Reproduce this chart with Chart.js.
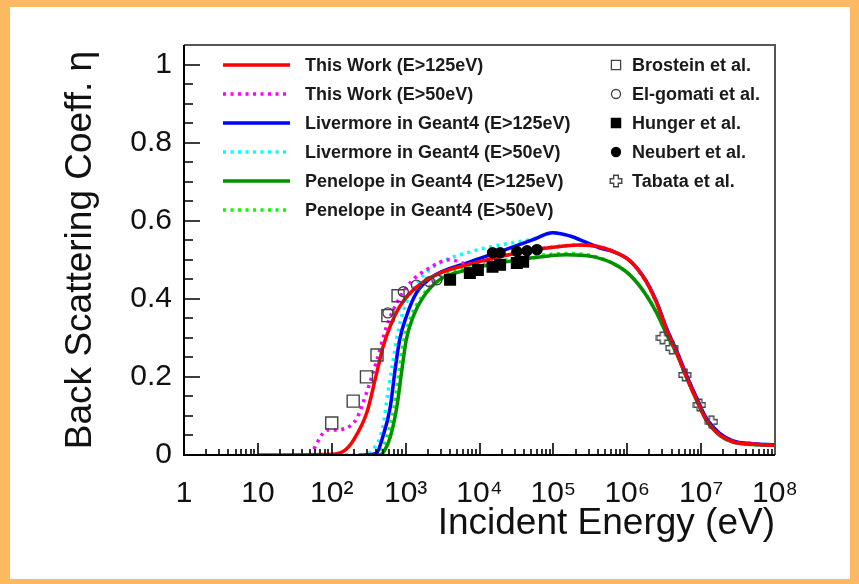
<!DOCTYPE html>
<html>
<head>
<meta charset="utf-8">
<script src="https://cdn.jsdelivr.net/npm/chart.js@4.4.0/dist/chart.umd.min.js"></script>
<style>
  html, body { margin: 0; padding: 0; background: #fff; }
</style>
</head>
<body>
<canvas id="bsc" width="859" height="584"></canvas>
<script>
// axis ticks
const xTickValues = [1, 10, 1e2, 1e3, 1e4, 1e5, 1e6, 1e7, 1e8];
const xTickLabels = ['1', '10', '10²', '10³', '10⁴', '10⁵', '10⁶', '10⁷', '10⁸'];
const yTickValues = [0, 0.2, 0.4, 0.6, 0.8, 1];
const yTickLabels = ['0', '0.2', '0.4', '0.6', '0.8', '1'];

// This Work (E>125eV)
const redE   = [10, 100, 150, 200, 300, 400, 500, 620, 830, 1150, 1750, 2900, 6800, 19000, 52000, 150000, 230000, 400000, 650000, 1.1e6, 1.8e6, 2.5e6, 3.4e6, 4.7e6, 6.3e6, 8.7e6, 1.17e7, 1.8e7, 2.7e7, 5e7, 1e8];
const redEta = [0, 0.002, 0.012, 0.04, 0.11, 0.205, 0.28, 0.33, 0.38, 0.415, 0.444, 0.466, 0.487, 0.508, 0.525, 0.536, 0.538, 0.534, 0.521, 0.496, 0.444, 0.389, 0.321, 0.261, 0.201, 0.141, 0.09, 0.051, 0.034, 0.028, 0.025];

// This Work (E>50eV)
const magE   = [50, 56, 65, 76, 90, 110, 140, 180, 220, 295, 410, 550, 760, 1150, 1900, 4000, 6800, 19000, 52000, 150000, 230000, 400000, 650000, 1.1e6, 1.8e6, 2.5e6, 3.4e6, 4.7e6, 6.3e6, 8.7e6, 1.17e7, 1.8e7, 2.7e7, 5e7, 1e8];
const magEta = [0, 0.012, 0.035, 0.056, 0.064, 0.064, 0.066, 0.075, 0.095, 0.159, 0.244, 0.328, 0.39, 0.441, 0.474, 0.5, 0.49, 0.508, 0.525, 0.536, 0.538, 0.534, 0.521, 0.496, 0.444, 0.389, 0.321, 0.261, 0.201, 0.141, 0.09, 0.051, 0.034, 0.028, 0.025];

// Livermore in Geant4 (E>125eV)
const blueE   = [280, 400, 490, 620, 720, 830, 1020, 1400, 2300, 6800, 19000, 52000, 98000, 180000, 230000, 430000, 650000, 1.1e6, 1.8e6, 2.5e6, 3.4e6, 4.7e6, 6.3e6, 8.7e6, 1.17e7, 1.8e7, 2.7e7, 5e7, 1e8];
const blueEta = [0, 0.004, 0.046, 0.123, 0.218, 0.295, 0.354, 0.415, 0.456, 0.492, 0.521, 0.551, 0.569, 0.559, 0.551, 0.53, 0.521, 0.497, 0.446, 0.392, 0.325, 0.265, 0.206, 0.146, 0.095, 0.055, 0.036, 0.029, 0.026];

// Livermore in Geant4 (E>50eV)
const cyanE   = [250, 360, 490, 575, 680, 800, 1020, 1550, 2900, 6800, 14000, 52000, 98000, 180000, 230000, 430000, 650000, 1.1e6, 1.8e6, 2.5e6, 3.4e6, 4.7e6, 6.3e6, 8.7e6, 1.17e7, 1.8e7, 2.7e7, 5e7, 1e8];
const cyanEta = [0, 0.013, 0.072, 0.159, 0.244, 0.321, 0.39, 0.449, 0.492, 0.518, 0.533, 0.553, 0.568, 0.559, 0.551, 0.53, 0.521, 0.497, 0.446, 0.392, 0.325, 0.265, 0.206, 0.146, 0.095, 0.055, 0.036, 0.029, 0.026];

// Penelope in Geant4 (E>125eV)
const greenE   = [230, 450, 520, 620, 760, 890, 1020, 1260, 1740, 2900, 6800, 19000, 52000, 150000, 340000, 650000, 1.1e6, 1.8e6, 2.5e6, 3.4e6, 4.7e6, 6.3e6, 8.7e6, 1.17e7, 1.8e7, 2.7e7, 5e7, 1e8];
const greenEta = [0, 0, 0.012, 0.046, 0.123, 0.218, 0.295, 0.354, 0.405, 0.449, 0.474, 0.492, 0.505, 0.513, 0.508, 0.49, 0.46, 0.41, 0.364, 0.31, 0.258, 0.2, 0.14, 0.09, 0.05, 0.033, 0.027, 0.025];

// Penelope in Geant4 (E>50eV)
const limeE   = [75, 400, 470, 560, 700, 820, 950, 1180, 1650, 2800, 6800, 19000, 52000, 150000, 340000, 650000, 1.1e6, 1.8e6, 2.5e6, 3.4e6, 4.7e6, 6.3e6, 8.7e6, 1.17e7, 1.8e7, 2.7e7, 5e7, 1e8];
const limeEta = [0, 0, 0.012, 0.046, 0.123, 0.218, 0.295, 0.354, 0.405, 0.452, 0.478, 0.496, 0.509, 0.516, 0.51, 0.49, 0.46, 0.41, 0.364, 0.31, 0.258, 0.2, 0.14, 0.09, 0.05, 0.033, 0.027, 0.025];

// measurements
const brosE   = [100, 195, 295, 410, 575, 790];
const brosEta = [0.082, 0.138, 0.2, 0.256, 0.357, 0.408];
const gomE    = [575, 930, 1400, 2100, 2650];
const gomEta  = [0.364, 0.418, 0.435, 0.444, 0.449];
const hungE   = [4000, 7400, 9500, 15000, 19000, 32000, 39000];
const hungEta = [0.449, 0.466, 0.474, 0.482, 0.487, 0.492, 0.495];
const neubE   = [15000, 19000, 32000, 44000, 60000];
const neubEta = [0.518, 0.518, 0.521, 0.523, 0.526];
const tabE    = [3.0e6, 4.0e6, 6.0e6, 9.5e6, 1.38e7];
const tabEta  = [0.30, 0.274, 0.205, 0.128, 0.085];

const FONT = '"Liberation Sans", Arial, Helvetica, sans-serif';
const pts = (xs, ys) => xs.map((x, i) => ({ x: x, y: ys[i] }));

// open cross marker (Tabata)
const crossImg = document.createElement('canvas');
crossImg.width = 14; crossImg.height = 14;
(function () {
    const g = crossImg.getContext('2d');
    const c = 7, h = 2.3, r = 5.8;
    g.strokeStyle = '#444';
    g.lineWidth = 1.4;
    g.beginPath();
    g.moveTo(c - h, c - r); g.lineTo(c + h, c - r); g.lineTo(c + h, c - h);
    g.lineTo(c + r, c - h); g.lineTo(c + r, c + h); g.lineTo(c + h, c + h);
    g.lineTo(c + h, c + r); g.lineTo(c - h, c + r); g.lineTo(c - h, c + h);
    g.lineTo(c - r, c + h); g.lineTo(c - r, c - h); g.lineTo(c - h, c - h);
    g.closePath();
    g.stroke();
})();

function curve(label, xs, ys, color, dotted, order) {
    return {
        label: label,
        data: pts(xs, ys),
        showLine: true,
        borderColor: color,
        borderWidth: 3.5,
        borderDash: dotted ? [3, 4.5] : [],
        pointRadius: 0,
        cubicInterpolationMode: 'monotone',
        order: order,
        isCurve: true
    };
}

function marks(label, xs, ys, style, filled, radius, legendRadius) {
    return {
        label: label,
        data: pts(xs, ys),
        showLine: false,
        pointStyle: style,
        pointRadius: radius,
        borderWidth: 1.4,
        borderColor: filled ? '#000' : '#444',
        backgroundColor: filled ? '#000' : 'rgba(0,0,0,0)',
        order: -1,
        legendRadius: legendRadius
    };
}

const frameTicks = {
    id: 'frameTicks',
    beforeDraw(chart) {
        const ctx = chart.ctx, w = chart.width, h = chart.height;
        ctx.save();
        ctx.fillStyle = '#ffffff';
        ctx.fillRect(0, 0, w, h);
        ctx.fillStyle = '#fdb862';
        ctx.fillRect(0, 0, w, 7);
        ctx.fillRect(0, h - 5, w, 5);
        ctx.fillRect(0, 0, 10, h);
        ctx.fillRect(w - 9, 0, 9, h);
        ctx.restore();
    },
    afterDraw(chart) {
        const ctx = chart.ctx;
        const { left, right, top, bottom } = chart.chartArea;
        const xs = chart.scales.x, ys = chart.scales.y;
        ctx.save();
        ctx.lineWidth = 2;
        ctx.strokeStyle = '#555';
        ctx.beginPath();
        ctx.moveTo(left, top); ctx.lineTo(right, top); ctx.lineTo(right, bottom);
        ctx.stroke();
        ctx.strokeStyle = '#000';
        ctx.beginPath();
        ctx.moveTo(left, top); ctx.lineTo(left, bottom); ctx.lineTo(right, bottom);
        ctx.stroke();

        ctx.lineWidth = 1.6;
        ctx.beginPath();
        for (let k = 0; k <= 20; k++) {
            const py = Math.round(ys.getPixelForValue(k * 0.05));
            const len = k % 4 === 0 ? 16 : 9;
            ctx.moveTo(left, py); ctx.lineTo(left + len, py);
        }
        for (let d = 1; d <= 1e7; d *= 10) {
            for (let m = 1; m <= 9; m++) {
                const px = Math.round(xs.getPixelForValue(m * d));
                const len = m === 1 ? 12 : 6;
                ctx.moveTo(px, bottom); ctx.lineTo(px, bottom - len);
            }
        }
        ctx.stroke();
        ctx.restore();
    }
};

// legend drawn inside the frame, two columns like the original
const plotLegend = {
    id: 'plotLegend',
    afterDraw(chart) {
        const ctx = chart.ctx;
        let ci = 0, mi = 0;
        ctx.save();
        ctx.font = 'bold 18px ' + FONT;
        ctx.textBaseline = 'middle';
        chart.data.datasets.forEach(ds => {
            if (ds.isCurve) {
                const y = 65 + ci * 29;
                ctx.strokeStyle = ds.borderColor;
                ctx.lineWidth = 3.5;
                ctx.setLineDash(ds.borderDash);
                ctx.beginPath();
                ctx.moveTo(223, y); ctx.lineTo(290, y);
                ctx.stroke();
                ctx.setLineDash([]);
                ctx.fillStyle = '#1a1a1a';
                ctx.fillText(ds.label, 305, y + 1);
                ci++;
            } else {
                const y = 65 + mi * 29;
                ctx.strokeStyle = ds.borderColor;
                ctx.fillStyle = ds.backgroundColor;
                ctx.lineWidth = 1.3;
                Chart.helpers.drawPoint(ctx, { pointStyle: ds.pointStyle, radius: ds.legendRadius, rotation: 0, borderWidth: 1.3 }, 616, y);
                ctx.fillStyle = '#1a1a1a';
                ctx.fillText(ds.label, 632, y + 1);
                mi++;
            }
        });
        ctx.restore();
    }
};

const datasets = [
    curve('This Work (E>125eV)', redE, redEta, '#ff0000', false, 1),
    curve('This Work (E>50eV)', magE, magEta, '#ff00ff', true, 2),
    curve('Livermore in Geant4 (E>125eV)', blueE, blueEta, '#0000ff', false, 3),
    curve('Livermore in Geant4 (E>50eV)', cyanE, cyanEta, '#00ffff', true, 5),
    curve('Penelope in Geant4 (E>125eV)', greenE, greenEta, '#009000', false, 4),
    curve('Penelope in Geant4 (E>50eV)', limeE, limeEta, '#00ff00', true, 6),
    marks('Brostein et al.', brosE, brosEta, 'rect', false, 8.5, 6.5),
    marks('El-gomati et al.', gomE, gomEta, 'circle', false, 5, 4.5),
    marks('Hunger et al.', hungE, hungEta, 'rect', true, 7.5, 6.5),
    marks('Neubert et al.', neubE, neubEta, 'circle', true, 5, 4.5),
    marks('Tabata et al.', tabE, tabEta, crossImg, false, 7, 7)
];

new Chart(document.getElementById('bsc'), {
    type: 'scatter',
    data: { datasets: datasets },
    options: {
        responsive: false,
        animation: false,
        layout: { padding: { left: 0, top: 45, right: 84, bottom: 0 } },
        plugins: { legend: { display: false }, tooltip: { enabled: false } },
        scales: {
            x: {
                type: 'logarithmic',
                position: 'bottom',
                min: 1,
                max: 1e8,
                grid: { display: false, drawTicks: false },
                border: { display: false },
                afterBuildTicks: s => { s.ticks = xTickValues.map(v => ({ value: v })); },
                afterFit: s => { s.height = 129; },
                ticks: {
                    autoSkip: false,
                    maxRotation: 0,
                    padding: 21,
                    color: '#111',
                    font: { size: 30, family: FONT },
                    callback: (v, i) => xTickLabels[i]
                },
                title: {
                    display: true,
                    text: 'Incident Energy (eV)',
                    align: 'end',
                    color: '#111',
                    font: { size: 37, family: FONT },
                    padding: { top: 0, bottom: 38 }
                }
            },
            y: {
                position: 'left',
                min: 0,
                max: 1.05,
                grid: { display: false, drawTicks: false },
                border: { display: false },
                afterBuildTicks: s => { s.ticks = yTickValues.map(v => ({ value: v })); },
                afterFit: s => { s.width = 184; },
                ticks: {
                    padding: 12,
                    color: '#111',
                    font: { size: 30, family: FONT },
                    callback: (v, i) => yTickLabels[i]
                },
                title: {
                    display: true,
                    text: 'Back Scattering Coeff. η',
                    color: '#111',
                    font: { size: 37, family: FONT },
                    padding: { top: 59, bottom: 0 }
                }
            }
        }
    },
    plugins: [frameTicks, plotLegend]
});
</script>
</body>
</html>
